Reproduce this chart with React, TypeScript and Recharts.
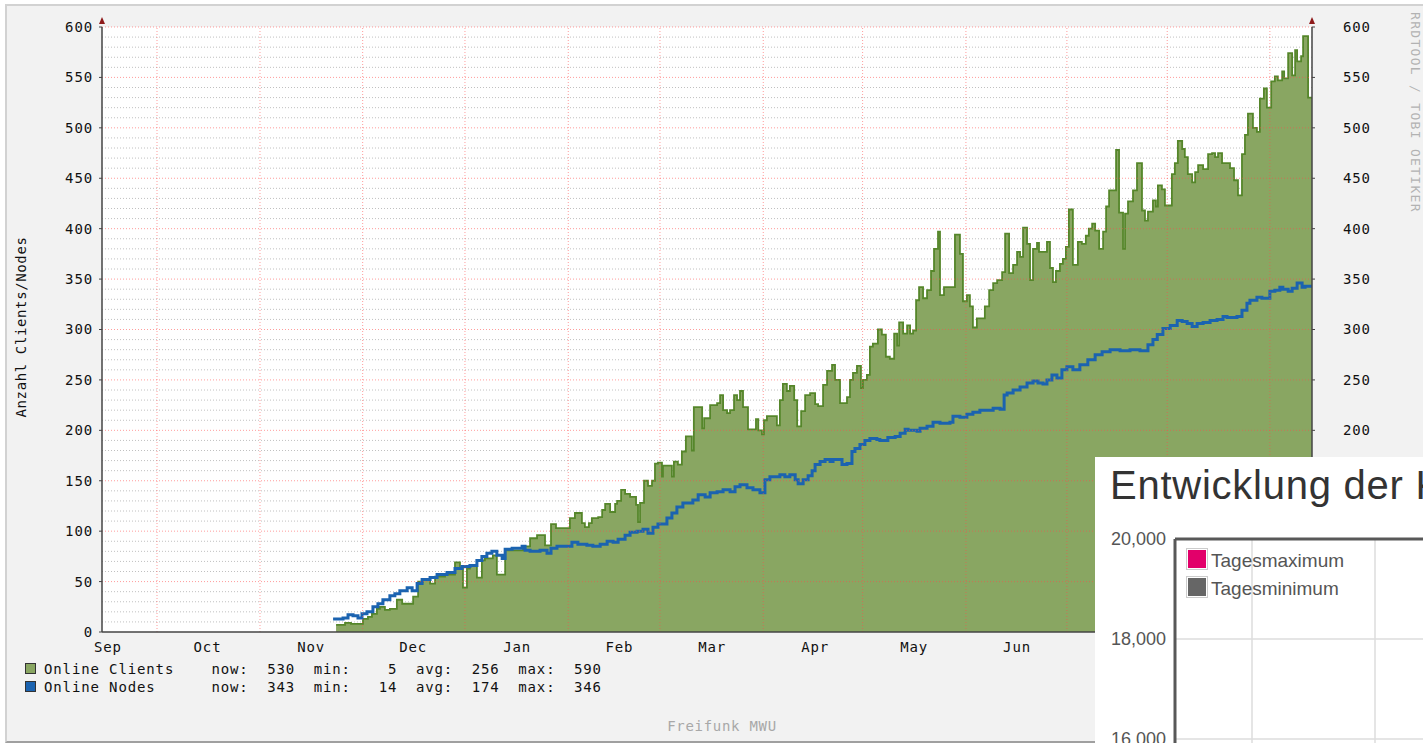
import React from 'react';
import {
  ComposedChart,
  LineChart,
  Area,
  Line,
  XAxis,
  YAxis,
  CartesianGrid,
  ReferenceLine,
} from 'recharts';

const MONO = '"DejaVu Sans Mono", monospace';
const SANS = '"Liberation Sans", Arial, sans-serif';

// x values are days counted from 1 Oct (day 0)
const monthNames = ['Sep', 'Oct', 'Nov', 'Dec', 'Jan', 'Feb', 'Mar', 'Apr', 'May', 'Jun'];
const monthLabelDays = [-14.8, 15.2, 46.4, 77.1, 108.4, 139.2, 167.1, 198.1, 227.9, 258.9];
const monthStartDays = [0, 31.0, 61.9, 92.7, 123.8, 151.4, 182.5, 212.4, 243.5, 273.9, 304.1, 335.0];
const X_DOMAIN: [number, number] = [-16.56, 347.68];

const yMajorTicks = [0, 50, 100, 150, 200, 250, 300, 350, 400, 450, 500, 550, 600];
const yRightTicks = [200, 250, 300, 350, 400, 450, 500, 550, 600];
const yMajorGrid = [50, 100, 150, 200, 250, 300, 350, 400, 450, 500, 550, 600];
const yMinorGrid = [
  10, 20, 30, 40, 60, 70, 80, 90, 110, 120, 130, 140, 160, 170, 180, 190, 210, 220, 230, 240,
  260, 270, 280, 290, 310, 320, 330, 340, 360, 370, 380, 390, 410, 420, 430, 440, 460, 470, 480, 490,
  510, 520, 530, 540, 560, 570, 580, 590,
];

// Online Clients [day, value]
const clientsPoints: [number, number][] = [
  [53.9, 7], [56.6, 9], [58.4, 8], [62.0, 13], [63.5, 15], [64.7, 18], [66.2, 23], [67.1, 25], [68.6, 22],
  [70.1, 23], [72.2, 32], [73.8, 28], [77.1, 35], [78.6, 50], [80.1, 52], [82.2, 48], [83.7, 55], [86.7, 57],
  [89.7, 69], [91.2, 63], [92.1, 44], [93.3, 63], [94.2, 66], [96.3, 54], [97.8, 71], [98.7, 73], [101.1, 76],
  [102.3, 57], [104.8, 81], [110.2, 85], [112.3, 93], [114.4, 96], [116.8, 86], [118.6, 107], [120.1, 103],
  [124.3, 113], [125.8, 118], [127.9, 108], [128.8, 104], [130.0, 108], [130.9, 113], [132.8, 114], [134.0, 121],
  [134.9, 127], [136.4, 119], [137.9, 127], [138.5, 130], [139.7, 141], [140.9, 137], [142.4, 134], [144.2, 126],
  [144.8, 109], [145.4, 128], [146.6, 150], [147.8, 145], [149.0, 150], [149.9, 167], [150.8, 168], [152.0, 154],
  [152.3, 165], [155.0, 154], [155.6, 169], [156.8, 166], [158.0, 179], [159.2, 194], [161.0, 180], [161.6, 223],
  [164.1, 202], [164.7, 212], [166.5, 225], [168.6, 227], [169.5, 235], [170.4, 220], [171.6, 217], [172.5, 220],
  [173.7, 235], [174.6, 230], [175.5, 239], [176.4, 223], [177.9, 201], [180.3, 211], [181.0, 200], [182.1, 196],
  [182.7, 210], [183.6, 214], [186.6, 205], [187.5, 230], [188.4, 246], [189.6, 239], [190.5, 244], [191.8, 230],
  [192.7, 204], [193.9, 219], [195.1, 235], [196.6, 237], [198.1, 226], [199.0, 224], [200.5, 245], [201.7, 259],
  [203.2, 265], [204.1, 250], [205.6, 227], [207.7, 233], [208.6, 250], [209.5, 257], [210.7, 264], [211.9, 242],
  [212.5, 250], [213.7, 255], [214.6, 283], [215.5, 286], [217.0, 300], [218.2, 295], [219.4, 273], [220.6, 271],
  [221.9, 296], [222.8, 284], [223.4, 307], [224.6, 296], [225.8, 304], [226.7, 296], [227.6, 299], [228.5, 329],
  [229.4, 342], [230.6, 331], [231.8, 339], [233.0, 358], [233.9, 380], [235.1, 397], [235.7, 334], [236.9, 342],
  [240.2, 394], [241.7, 375], [242.6, 328], [243.8, 334], [244.7, 323], [245.6, 302], [246.8, 311], [249.2, 323],
  [250.5, 339], [251.7, 346], [252.9, 349], [254.4, 357], [255.3, 395], [256.5, 356], [257.7, 364], [258.9, 377],
  [259.8, 372], [260.7, 401], [261.9, 385], [262.8, 349], [263.7, 380], [264.9, 386], [265.5, 377], [267.9, 387],
  [268.8, 361], [269.7, 347], [270.6, 358], [271.8, 365], [272.7, 370], [273.6, 382], [274.5, 419], [275.7, 364],
  [277.2, 387], [278.4, 385], [279.6, 393], [280.5, 400], [281.5, 405], [282.4, 398], [283.6, 380], [284.8, 397],
  [285.7, 422], [286.6, 438], [288.7, 478], [289.6, 416], [290.8, 380], [291.4, 415], [292.3, 427], [293.8, 438],
  [295.0, 465], [296.5, 418], [297.4, 408], [298.3, 417], [299.8, 428], [300.7, 422], [301.3, 443], [302.5, 439],
  [303.4, 423], [305.5, 454], [306.4, 465], [307.3, 487], [308.6, 479], [309.4, 471], [310.3, 454], [311.6, 446],
  [312.5, 456], [313.4, 463], [314.9, 459], [316.4, 474], [317.6, 475], [318.5, 471], [319.4, 475], [320.6, 465],
  [323.0, 460], [324.2, 448], [325.4, 433], [326.6, 474], [327.5, 493], [328.4, 514], [329.9, 500], [331.1, 496],
  [332.0, 529], [333.2, 539], [334.1, 520], [335.4, 546], [336.5, 551], [337.4, 547], [338.7, 556], [339.3, 549],
  [340.5, 574], [341.7, 552], [342.6, 577], [343.2, 566], [344.4, 571], [345.0, 591], [346.5, 530], [347.68, 530],
];

// Online Nodes [day, value]
const nodesPoints: [number, number][] = [
  [53.0, 13], [56.0, 14], [57.5, 17], [59.0, 16], [60.5, 14], [61.7, 18], [63.2, 20], [65.0, 25], [66.5, 28],
  [68.0, 32], [70.1, 36], [71.6, 38], [73.1, 41], [75.3, 44], [76.8, 41], [78.3, 48], [79.8, 52], [82.2, 54],
  [84.3, 57], [87.3, 59], [89.7, 63], [91.8, 65], [94.2, 66], [96.3, 71], [97.8, 75], [99.3, 78], [100.8, 80],
  [102.3, 76], [103.9, 73], [104.8, 82], [106.9, 83], [109.9, 85], [110.8, 81], [112.3, 80], [115.3, 81],
  [117.4, 78], [118.6, 83], [120.4, 85], [124.9, 89], [126.7, 87], [129.4, 86], [131.2, 85], [133.4, 87],
  [135.5, 90], [137.3, 89], [138.8, 92], [140.9, 96], [142.4, 99], [144.5, 100], [146.3, 102], [147.8, 98],
  [149.3, 104], [150.8, 107], [153.5, 113], [155.0, 118], [156.5, 124], [158.3, 128], [161.3, 131], [162.9, 136],
  [165.0, 134], [166.5, 138], [168.6, 139], [170.4, 141], [172.5, 139], [174.0, 144], [175.5, 146], [177.6, 143],
  [179.4, 141], [181.5, 138], [183.0, 151], [184.5, 154], [187.5, 156], [189.0, 154], [190.5, 156], [192.1, 151],
  [193.0, 147], [194.5, 151], [196.0, 155], [197.2, 160], [198.1, 166], [199.6, 169], [201.1, 171], [202.6, 169],
  [203.5, 171], [206.2, 166], [207.7, 167], [209.2, 179], [210.1, 182], [211.6, 186], [213.1, 190], [214.6, 192],
  [216.7, 191], [217.6, 190], [220.0, 193], [222.2, 194], [223.7, 197], [225.2, 201], [226.1, 200], [228.8, 199],
  [229.7, 202], [231.8, 204], [233.6, 208], [235.7, 207], [238.7, 208], [239.6, 214], [241.7, 213], [243.8, 216],
  [245.6, 218], [247.7, 220], [251.7, 222], [253.8, 221], [255.0, 235], [255.9, 237], [257.7, 240], [259.8, 243],
  [261.9, 247], [263.7, 249], [265.2, 247], [266.7, 246], [267.9, 250], [269.4, 255], [270.9, 252], [272.4, 260],
  [273.9, 263], [275.7, 260], [277.8, 265], [280.2, 270], [282.4, 275], [284.5, 278], [286.9, 280], [289.9, 279],
  [292.9, 280], [295.9, 279], [298.3, 285], [299.8, 290], [301.1, 295], [302.8, 301], [305.0, 304], [307.1, 309],
  [308.6, 308], [310.1, 306], [311.6, 303], [313.1, 306], [314.9, 307], [317.0, 309], [319.1, 310], [320.9, 313],
  [322.1, 312], [325.1, 313], [326.6, 319], [328.1, 326], [329.0, 329], [331.1, 332], [332.6, 331], [335.0, 338],
  [336.5, 339], [338.0, 342], [338.9, 340], [340.5, 338], [341.7, 341], [343.2, 346], [344.7, 342], [345.6, 343],
  [347.68, 343],
];

const legendNames = ['Online Clients', 'Online Nodes'];
const legendNow = [530, 343];
const legendMin = [5, 14];
const legendAvg = [256, 174];
const legendMax = [590, 346];
const legendColors = ['#89a662', '#1b63b0'];

// overlay chart (second screenshot, only its top-left corner is visible)
const overlayTitle = 'Entwicklung der K';
const overlayYTicks = [14000, 16000, 18000, 20000];
const overlayGridY = [16000, 18000];
const overlayGridX = [77, 200, 323];
const overlayXRange = [0, 400];
const overlaySeries = ['Tagesmaximum', 'Tagesminimum'];
const overlayColors = ['#e2006a', '#666666'];

const clientsData = clientsPoints.map(([d, v]) => ({ d, v }));
const nodesData = nodesPoints.map(([d, v]) => ({ d, v }));
const overlayData = overlayXRange.map((t) => ({ t }));

const tickStyle = { fontFamily: MONO, fontSize: 14, fill: '#111', letterSpacing: 0.87 };

function MonthTick(props: any) {
  const { x, y, payload } = props;
  const i = monthLabelDays.indexOf(payload.value);
  return (
    <text
      x={x}
      y={y}
      dy={20}
      textAnchor="middle"
      fontFamily={MONO}
      fontSize={14}
      fill="#111"
      style={{ letterSpacing: '0.87px' }}
    >
      {i >= 0 ? monthNames[i] : ''}
    </text>
  );
}

function legendLine(i: number) {
  return (
    legendNames[i].padEnd(18) +
    'now:' + String(legendNow[i]).padStart(5) +
    '  min:' + String(legendMin[i]).padStart(5) +
    '  avg:' + String(legendAvg[i]).padStart(5) +
    '  max:' + String(legendMax[i]).padStart(5)
  );
}

const arrowStyle: React.CSSProperties = {
  position: 'absolute',
  top: 17,
  width: 0,
  height: 0,
  borderLeft: '3.5px solid transparent',
  borderRight: '3.5px solid transparent',
  borderBottom: '7px solid #8e1a1a',
};

export default function App() {
  return (
    <div
      style={{
        position: 'absolute',
        left: 0,
        top: 0,
        width: 1423,
        height: 743,
        overflow: 'hidden',
        background: '#ffffff',
      }}
    >
      {/* RRD canvas frame */}
      <div
        style={{
          position: 'absolute',
          left: 5,
          top: 4,
          width: 1440,
          height: 735,
          background: '#f2f2f2',
          borderTop: '2px solid #d2d2d2',
          borderLeft: '2px solid #d2d2d2',
          borderBottom: '2px solid #a0a0a0',
        }}
      />
      <div style={{ position: 'absolute', left: 0, top: 0 }}>
        <ComposedChart
          width={1423}
          height={743}
          margin={{ top: 27, right: 51, left: 42, bottom: 81 }}
        >
          <CartesianGrid
            fill="#ffffff"
            vertical={false}
            horizontalValues={yMinorGrid}
            stroke="#c0c0c0"
            strokeDasharray="1 2"
          />
          <XAxis
            type="number"
            dataKey="d"
            domain={X_DOMAIN}
            allowDataOverflow
            ticks={monthLabelDays}
            interval={0}
            tick={<MonthTick />}
            tickLine={false}
            tickSize={0}
            tickMargin={0}
            height={30}
            axisLine={{ stroke: '#444', strokeWidth: 1.5 }}
          />
          <YAxis
            type="number"
            domain={[0, 600]}
            allowDataOverflow
            ticks={yMajorTicks}
            interval={0}
            width={60}
            tick={tickStyle}
            tickSize={3}
            tickMargin={6}
            tickLine={{ stroke: '#444' }}
            axisLine={{ stroke: '#444', strokeWidth: 1.5 }}
          />
          <YAxis
            yAxisId="right"
            orientation="right"
            type="number"
            domain={[0, 600]}
            allowDataOverflow
            ticks={yRightTicks}
            interval={0}
            width={60}
            tick={{ ...tickStyle, textAnchor: 'start' }}
            tickSize={3}
            tickMargin={28}
            tickLine={{ stroke: '#444' }}
            axisLine={{ stroke: '#444', strokeWidth: 1.5 }}
          />
          <Area
            data={clientsData}
            dataKey="v"
            type="stepAfter"
            fill="#89a662"
            fillOpacity={1}
            stroke="#55862a"
            strokeWidth={1.8}
            isAnimationActive={false}
            dot={false}
            activeDot={false}
          />
          <Line
            data={nodesData}
            dataKey="v"
            type="stepAfter"
            stroke="#1b63b0"
            strokeWidth={3}
            dot={false}
            activeDot={false}
            isAnimationActive={false}
          />
          {yMajorGrid.map((v) => (
            <ReferenceLine
              key={'h' + v}
              y={v}
              stroke="#ff4a4a"
              strokeOpacity={0.55}
              strokeDasharray="1 2"
            />
          ))}
          {monthStartDays.map((d) => (
            <ReferenceLine
              key={'v' + d}
              x={d}
              stroke="#ff4a4a"
              strokeOpacity={0.55}
              strokeDasharray="1 2"
            />
          ))}
        </ComposedChart>
      </div>

      {/* axis arrows */}
      <div style={{ ...arrowStyle, left: 99 }} />
      <div style={{ ...arrowStyle, left: 1309 }} />

      {/* vertical axis title */}
      <div
        style={{
          position: 'absolute',
          left: 21 - 110,
          top: 327 - 8,
          width: 220,
          height: 16,
          lineHeight: '16px',
          textAlign: 'center',
          transform: 'rotate(-90deg)',
          fontFamily: MONO,
          fontSize: 14,
          letterSpacing: 0.62,
          color: '#111',
          whiteSpace: 'pre',
        }}
      >
        Anzahl Clients/Nodes
      </div>

      {/* watermark */}
      <div
        style={{
          position: 'absolute',
          left: 1408,
          top: 12,
          writingMode: 'vertical-rl',
          fontFamily: MONO,
          fontSize: 13,
          letterSpacing: 1.3,
          color: '#b2b2b2',
          whiteSpace: 'pre',
          lineHeight: '14px',
        }}
      >
        RRDTOOL / TOBI OETIKER
      </div>

      {/* legend */}
      {legendNames.map((n, i) => (
        <React.Fragment key={n}>
          <div
            style={{
              position: 'absolute',
              left: 25,
              top: 663 + i * 18,
              width: 9,
              height: 9,
              background: legendColors[i],
              border: '1px solid #333',
            }}
          />
          <div
            style={{
              position: 'absolute',
              left: 44,
              top: 661 + i * 18,
              fontFamily: MONO,
              fontSize: 14,
              lineHeight: '16px',
              letterSpacing: 0.87,
              color: '#111',
              whiteSpace: 'pre',
            }}
          >
            {legendLine(i)}
          </div>
        </React.Fragment>
      ))}

      <div
        style={{
          position: 'absolute',
          left: 722 - 100,
          top: 718,
          width: 200,
          textAlign: 'center',
          fontFamily: MONO,
          fontSize: 14,
          lineHeight: '16px',
          letterSpacing: 0.7,
          color: '#a8a8a8',
          whiteSpace: 'pre',
        }}
      >
        Freifunk MWU
      </div>

      {/* overlaid second chart */}
      <div
        style={{
          position: 'absolute',
          left: 1095,
          top: 457,
          width: 520,
          height: 420,
          background: '#ffffff',
        }}
      >
        <div
          style={{
            position: 'absolute',
            left: 15,
            top: 8,
            fontFamily: SANS,
            fontSize: 40,
            lineHeight: '40px',
            letterSpacing: 0.75,
            color: '#333',
            whiteSpace: 'pre',
          }}
        >
          {overlayTitle}
        </div>
        <div style={{ position: 'absolute', left: 0, top: 0 }}>
          <LineChart
            width={500}
            height={420}
            data={overlayData}
            margin={{ top: 81, right: 20, left: 8, bottom: 38 }}
          >
            <CartesianGrid
              fill="#ffffff"
              stroke="#dcdcdc"
              strokeWidth={1.5}
              vertical={false}
              horizontalValues={overlayGridY}
            />
            <XAxis
              type="number"
              dataKey="t"
              orientation="top"
              domain={[0, 400]}
              allowDataOverflow
              ticks={overlayGridX}
              tick={false}
              tickLine={false}
              height={1}
              axisLine={false}
            />
            <YAxis
              type="number"
              domain={[14000, 20000]}
              allowDataOverflow
              ticks={overlayYTicks}
              interval={0}
              width={72}
              tickSize={0}
              tickMargin={9}
              tickLine={false}
              tickFormatter={(v: number) => v.toLocaleString('en-US')}
              tick={{ fontFamily: SANS, fontSize: 18, fill: '#555' }}
              axisLine={{ stroke: '#585858', strokeWidth: 3 }}
            />
            {overlayGridX.map((x) => (
              <ReferenceLine key={'ox' + x} x={x} stroke="#dcdcdc" strokeWidth={1.5} />
            ))}
            <ReferenceLine y={20000} stroke="#585858" strokeWidth={3} />
            <Line dataKey="max" name={overlaySeries[0]} stroke={overlayColors[0]} dot={false} isAnimationActive={false} />
            <Line dataKey="min" name={overlaySeries[1]} stroke={overlayColors[1]} dot={false} isAnimationActive={false} />
          </LineChart>
        </div>
        {overlaySeries.map((s, i) => (
          <React.Fragment key={s}>
            <div
              style={{
                position: 'absolute',
                left: 91,
                top: 91 + i * 28,
                width: 18,
                height: 18,
                padding: 1,
                border: '1px solid #cccccc',
                background: '#ffffff',
              }}
            >
              <div style={{ width: 18, height: 18, background: overlayColors[i] }} />
            </div>
            <div
              style={{
                position: 'absolute',
                left: 116,
                top: 93 + i * 28,
                fontFamily: SANS,
                fontSize: 19,
                lineHeight: '22px',
                color: '#555',
                whiteSpace: 'pre',
              }}
            >
              {s}
            </div>
          </React.Fragment>
        ))}
      </div>
    </div>
  );
}
